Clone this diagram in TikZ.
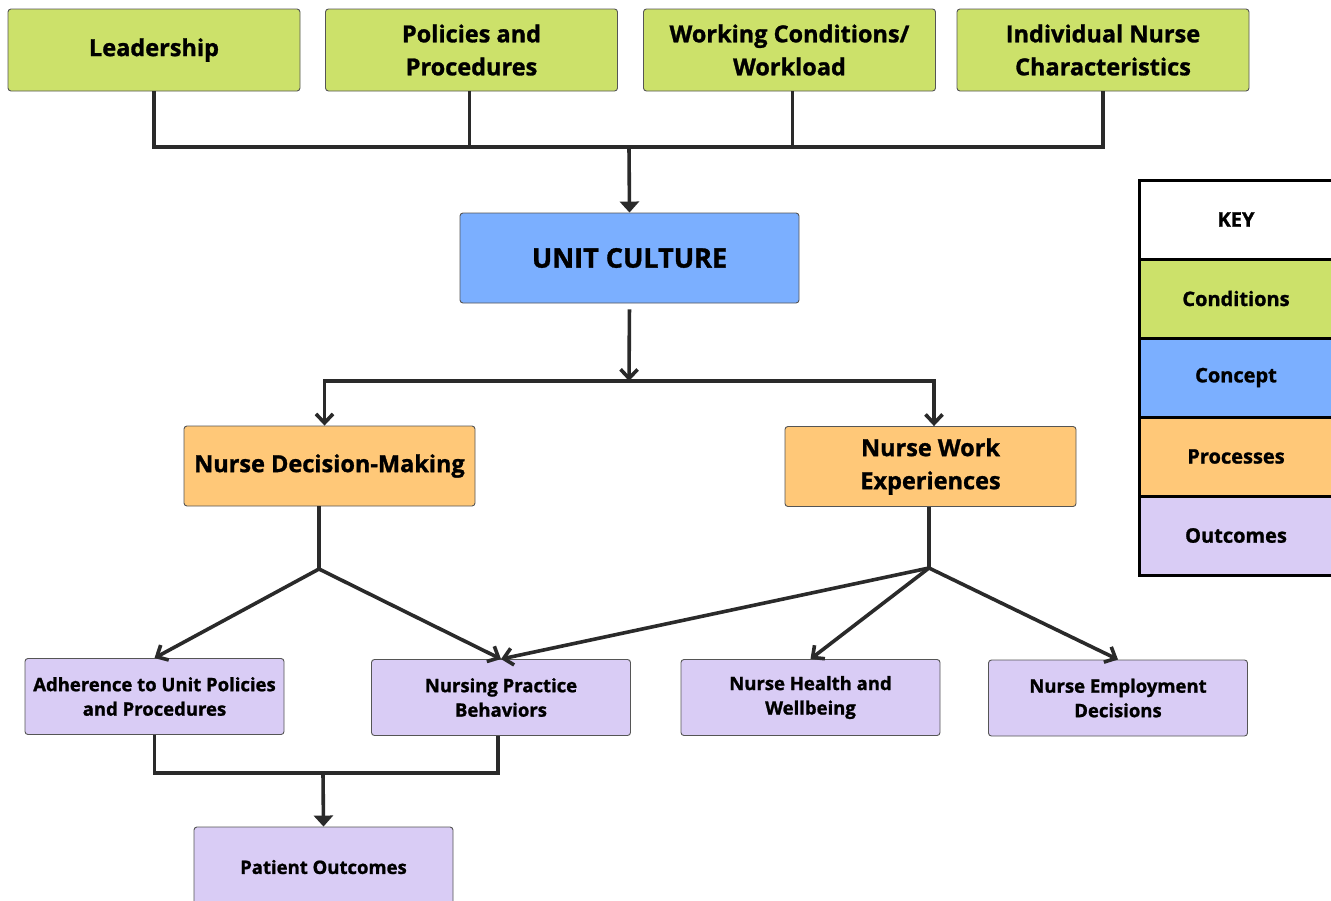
\documentclass[tikz,border=0pt]{standalone}
\usepackage{fontspec}
\setmainfont{Open Sans}[BoldFeatures={FakeBold=1.2}]
\usetikzlibrary{arrows.meta}
\definecolor{cond}{HTML}{CCE16A}
\definecolor{conc}{HTML}{7BAFFF}
\definecolor{proc}{HTML}{FFC878}
\definecolor{outc}{HTML}{D9CCF5}
\definecolor{ln}{HTML}{2A2A2A}
\definecolor{bd}{HTML}{555555}
\tikzset{
  box/.style={draw=bd, line width=0.9pt, rounded corners=3pt, align=center, inner sep=0pt},
  topbox/.style={box, fill=cond, minimum width=292pt, minimum height=82pt, font=\fontsize{23.5}{33}\selectfont\bfseries},
  procbox/.style={box, fill=proc, minimum width=291pt, minimum height=80pt, font=\fontsize{23.5}{33}\selectfont\bfseries},
  outbox/.style={box, fill=outc, minimum width=259pt, minimum height=76pt, font=\fontsize{18.5}{24.5}\selectfont\bfseries},
  keyrow/.style={draw=black, line width=3pt, minimum width=194pt, minimum height=79pt, inner sep=0pt, font=\fontsize{20}{24}\selectfont\bfseries},
  conn/.style={draw=ln, line width=3.6pt},
  barb/.style={-{Straight Barb[length=9pt,width=17pt,line width=3.6pt]}},
  tri/.style={-{Triangle[length=11pt,width=19pt]}}
}
\begin{document}
\begin{tikzpicture}[x=1pt,y=-1pt]
\clip (0,0) rectangle (1331,900);
\fill[white] (0,0) rectangle (1331,900);
% top conditions
\node[topbox] (lead) at (154,50) {Leadership};
\node[topbox] (pol) at (471.5,50) {Policies and\\Procedures};
\node[topbox] (work) at (789.5,50) {Working Conditions/\\Workload};
\node[topbox] (indiv) at (1103,50) {Individual Nurse\\Characteristics};
% concept
\node[box, fill=conc, minimum width=339pt, minimum height=90pt, font=\fontsize{27}{30}\selectfont\bfseries] (uc) at (629.5,258) {UNIT CULTURE};
% processes
\node[procbox] (ndm) at (329.5,466) {Nurse Decision-Making};
\node[procbox] (nwe) at (930.5,466.5) {Nurse Work\\Experiences};
% outcomes
\node[outbox] (adh) at (154.5,696.5) {Adherence to Unit Policies\\and Procedures};
\node[outbox] (npb) at (501,697.5) {Nursing Practice\\Behaviors};
\node[outbox] (nhw) at (810.5,697.5) {Nurse Health and\\Wellbeing};
\node[outbox] (ned) at (1118,698) {Nurse Employment\\Decisions};
\node[outbox, minimum height=80pt] (po) at (323.5,867) {Patient Outcomes};
% junctions
\coordinate (j1) at (629,147);
\coordinate (j2) at (629,381);
\coordinate (j3) at (319,569);
\coordinate (j4) at (929,568);
\coordinate (j5) at (323,773);
% top connectors
\draw[conn, line join=miter] (lead.south) |- (indiv.south |- j1) -- (indiv.south);
\draw[conn] ([xshift=-2pt]pol.south) -- ([xshift=-2pt]pol.south |- j1);
\draw[conn] ([xshift=3pt]work.south) -- ([xshift=3pt]work.south |- j1);
\draw[conn, tri] (j1) -- (uc.north);
% unit culture to processes
\draw[conn, barb, shorten <=6pt] (uc.south) -- (j2);
\draw[conn, barb, line join=miter] (j2) -| ([xshift=-5pt]ndm.north);
\draw[conn, barb, line join=miter] (j2) -| ([xshift=3.5pt]nwe.north);
% processes to outcomes
\draw[conn] (ndm.south -| j3) -- (j3);
\draw[conn, barb] (j3) -- (adh.north);
\draw[conn, barb] (j3) -- (npb.north);
\draw[conn] (nwe.south -| j4) -- (j4);
\draw[conn, barb] (j4) -- (npb.north);
\draw[conn, barb] (j4) -- (nhw.north);
\draw[conn, barb] (j4) -- (ned.north);
% to patient outcomes
\draw[conn, line join=miter] (adh.south) |- ([xshift=-3pt]npb.south |- j5) -- ([xshift=-3pt]npb.south);
\draw[conn, tri] (j5) -- (po.north);
% key
\node[keyrow, fill=white] (kkey) at (1236,219.5) {KEY};
\node[keyrow, fill=cond] (kcond) at (1236,298.5) {Conditions};
\node[keyrow, fill=conc] (kconc) at (1236,377.5) {Concept};
\node[keyrow, fill=proc] (kproc) at (1236,456.5) {Processes};
\node[keyrow, fill=outc] (kout) at (1236,535.5) {Outcomes};
\end{tikzpicture}
\end{document}
